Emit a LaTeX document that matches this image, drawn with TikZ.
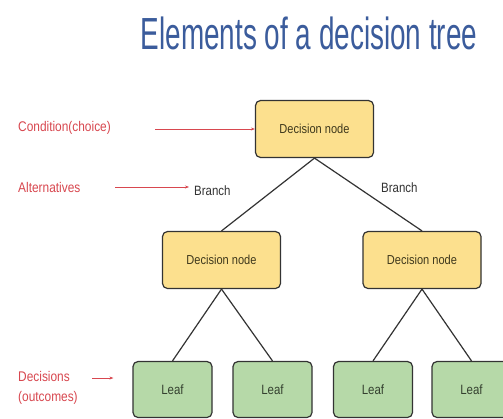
\documentclass[tikz,border=0pt]{standalone}
\usepackage{fontspec}
\setmainfont{Liberation Sans}
\newfontfamily\cond[FakeStretch=0.62]{Liberation Sans}
\newfontfamily\semi[FakeStretch=0.85]{Liberation Sans}
\usetikzlibrary{arrows.meta}
\definecolor{titleblue}{HTML}{3B5C9C}
\definecolor{lblred}{HTML}{D8474F}
\definecolor{decfill}{HTML}{FCE08E}
\definecolor{leaffill}{HTML}{B6D9A8}
\definecolor{edge}{HTML}{333333}
\definecolor{dectext}{HTML}{3E381C}
\definecolor{leaftext}{HTML}{34402F}
\tikzset{
  decbox/.style={draw=edge, line width=1.2pt, fill=decfill, rounded corners=5pt,
    minimum width=118pt, minimum height=57pt, font=\semi\fontsize{13}{15}\selectfont, text=dectext},
  leafbox/.style={draw=edge, line width=1.2pt, fill=leaffill, rounded corners=5pt,
    minimum width=79pt, minimum height=56pt, font=\semi\fontsize{13.5}{15}\selectfont, text=leaftext},
  lbl/.style={font=\semi\fontsize{14}{20}\selectfont, text=lblred, anchor=west, inner sep=0pt},
  redarrow/.style={draw=lblred, line width=0.7pt, -{Stealth[length=4pt,width=3pt]}},
  tline/.style={draw=edge, line width=1.2pt},
  brlbl/.style={font=\semi\fontsize{13.5}{15}\selectfont, text=edge, inner sep=0pt}
}
\begin{document}
\begin{tikzpicture}[x=1pt,y=-1pt]
\clip (0,0) rectangle (503,418);
\fill[white] (0,0) rectangle (503,418);
\node[font=\cond\fontsize{45}{50}\selectfont, text=titleblue, inner sep=0pt] (title) at (309,33) {Elements of a decision tree};
\node[decbox] (root) at (314.5,129) {Decision node};
\node[decbox] (midL) at (221.5,260) {Decision node};
\node[decbox] (midR) at (422,260) {Decision node};
\node[leafbox] (l1) at (172.5,389.5) {Leaf};
\node[leafbox] (l2) at (272.5,389.5) {Leaf};
\node[leafbox] (l3) at (373,389.5) {Leaf};
\node[leafbox] (l4) at (471.5,389.5) {Leaf};
\draw[tline] (root.south) -- (midL.north);
\draw[tline] (root.south) -- (midR.north);
\draw[tline] (midL.south) -- (l1.north);
\draw[tline] (midL.south) -- (l2.north);
\draw[tline] (midR.south) -- (l3.north);
\draw[tline] (midR.south) -- (l4.north);
\node[lbl] (cond) at (18,128) {Condition(choice)};
\node[lbl] (alt) at (18,187) {Alternatives};
\node[lbl, align=left] (dec) at (18,388) {Decisions\\(outcomes)};
\node[brlbl, anchor=west] (brL) at (194,191) {Branch};
\node[brlbl, anchor=west] (brR) at (381,188) {Branch};
\coordinate (c1) at (155,129);
\coordinate (c2) at (92,378);
\coordinate (c3) at (115,187);
\coordinate (c3e) at (189,187);
\draw[redarrow] (c1) -- (root.west);
\draw[redarrow] (c3) -- (c3e);
\draw[redarrow] (c2) -- ([xshift=-19pt]l1.west |- c2);
\end{tikzpicture}
\end{document}
